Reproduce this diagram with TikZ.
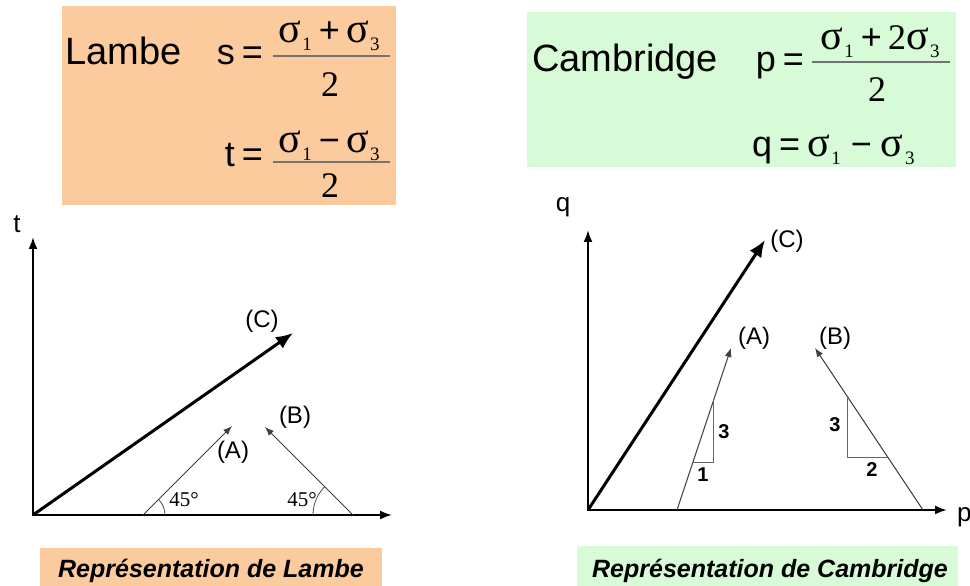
\documentclass[tikz,border=0pt]{standalone}
\usepackage{fontspec}
\setmainfont{Liberation Sans}
\newfontfamily\serifgr{Liberation Serif}
\usetikzlibrary{arrows.meta,calc}
\definecolor{peach}{RGB}{251,203,158}
\definecolor{mint}{RGB}{214,251,214}
\newcommand\sg[1]{{\serifgr\fontsize{42}{42}\selectfont σ}\hspace{1.5pt}\raisebox{-8pt}{\fontsize{19}{19}\selectfont\serifgr #1}}
\begin{document}
\begin{tikzpicture}[x=1pt,y=1pt,
  big/.style={font=\fontsize{38}{40}\selectfont,inner sep=0pt},
  formula/.style={font=\fontsize{36}{38}\selectfont,inner sep=0pt},
  fracline/.style={line width=1.5pt,draw=black!55},
  axislab/.style={font=\fontsize{26}{28}\selectfont,inner sep=0pt},
  lbl/.style={font=\fontsize{24}{26}\selectfont,inner sep=0pt},
  anglab/.style={font=\serifgr\fontsize{21}{22}\selectfont,inner sep=0pt},
  slopelab/.style={font=\bfseries\fontsize{20}{22}\selectfont,inner sep=0pt},
  caption/.style={font=\bfseries\itshape\fontsize{25}{27}\selectfont,inner sep=0pt},
  axes/.style={line width=2pt,{Latex[length=12pt,width=9pt]}-{Latex[length=12pt,width=9pt]}},
  bigarrow/.style={line width=3pt,-{Latex[length=17pt,width=14pt]}},
  thinarrow/.style={line width=1pt,draw=black!75,-{Latex[length=9pt,width=7pt]}},
  tri/.style={line width=1pt,draw=black!60},
  arcline/.style={line width=0.8pt,draw=black!70}
]
\useasboundingbox (0,0) rectangle (970,586);
% formula boxes
\fill[peach] (62,381) rectangle (396,580);
\fill[mint] (527,419) rectangle (956,574);
% Lambe
\node[big,anchor=base west] (lambe) at (65,521) {Lambe};
\node[formula,anchor=base east] (seq) at (263,521) {s\hspace{7pt}=};
\draw[fracline] (273,530) -- (390,530);
\node[formula,anchor=base] (snum) at (329,543) {\sg1\hspace{7pt}+\hspace{6pt}\sg3};
\node[formula,anchor=base] (sden) at (330,489) {\serifgr 2};
\node[formula,anchor=base east] (teq) at (263,419) {t\hspace{7pt}=};
\draw[fracline] (273,424) -- (390,424);
\node[formula,anchor=base] (tnum) at (329,433) {\sg1\hspace{7pt}−\hspace{6pt}\sg3};
\node[formula,anchor=base] (tden) at (330,388) {\serifgr 2};
% Cambridge
\node[big,anchor=base west] (camb) at (532,514) {Cambridge};
\node[formula,anchor=base east] (peq) at (804,514) {p\hspace{7pt}=};
\draw[fracline] (812,524) -- (950,524);
\node[formula,anchor=base] (pnum) at (880,536) {\sg1\hspace{7pt}+\hspace{6pt}{\serifgr 2}\sg3};
\node[formula,anchor=base west] (pden) at (868,484) {\serifgr 2};
\node[formula,anchor=base west] (qeq) at (752,429) {q\hspace{7pt}=\hspace{7pt}\sg1\hspace{10pt}−\hspace{9pt}\sg3};
% left plot
\coordinate (O1) at (33,71);
\coordinate (T1) at (33,349);
\coordinate (S1) at (392,71);
\draw[axes] (T1) -- (O1) -- (S1);
\node[axislab,anchor=base] (tlab) at (17,353) {t};
\coordinate (C1) at (293,253);
\draw[bigarrow] (O1) -- (C1);
\node[lbl] (c1lab) at (262,265) {(C)};
\coordinate (A1s) at (143,71);
\coordinate (A1e) at (232,160);
\draw[thinarrow] (A1s) -- (A1e);
\node[lbl] (a1lab) at (233,134) {(A)};
\coordinate (B1s) at (353,71);
\coordinate (B1e) at (265,159);
\draw[thinarrow] (B1s) -- (B1e);
\node[lbl] (b1lab) at (295,169) {(B)};
\draw[arcline] ($(A1s)+(22,0)$) arc (0:45:22);
\draw[arcline] ($(B1s)+(-40,0)$) arc (180:135:40);
\node[anglab] (ang1) at (184,86) {45°};
\node[anglab] (ang2) at (302,86) {45°};
% right plot
\coordinate (O2) at (588,76);
\coordinate (Q2) at (588,356);
\coordinate (P2) at (947,76);
\draw[axes] (Q2) -- (O2) -- (P2);
\node[axislab,anchor=base] (qlab) at (563,374) {q};
\node[axislab,anchor=base west] (plab) at (957,64) {p};
\coordinate (C2) at (765,346);
\draw[bigarrow] (O2) -- (C2);
\node[lbl] (c2lab) at (787,345) {(C)};
\coordinate (A2s) at (677,76);
\coordinate (A2e) at (731,238);
\draw[thinarrow] (A2s) -- (A2e);
\node[lbl] (a2lab) at (754,248) {(A)};
\coordinate (B2s) at (923,76);
\coordinate (B2e) at (815,238);
\draw[thinarrow] (B2s) -- (B2e);
\node[lbl] (b2lab) at (835,248) {(B)};
\coordinate (ta1) at ($(A2s)!0.296!(A2e)$);
\coordinate (ta2) at ($(A2s)!0.679!(A2e)$);
\draw[tri] (ta1) -| (ta2);
\coordinate (tb1) at ($(B2s)!0.321!(B2e)$);
\coordinate (tb2) at ($(B2s)!0.698!(B2e)$);
\draw[tri] (tb1) -| (tb2);
\node[slopelab] (sa3) at (724,154) {3};
\node[slopelab] (sa1) at (703,111) {1};
\node[slopelab] (sb3) at (835,161) {3};
\node[slopelab] (sb2) at (872,116) {2};
% captions
\fill[peach] (40,0) rectangle (382,38);
\node[caption,anchor=base] (cap1) at (211,8) {Représentation de Lambe};
\fill[mint] (577,0) rectangle (958,40);
\node[caption,anchor=base] (cap2) at (770,8) {Représentation de Cambridge};
\end{tikzpicture}
\end{document}
